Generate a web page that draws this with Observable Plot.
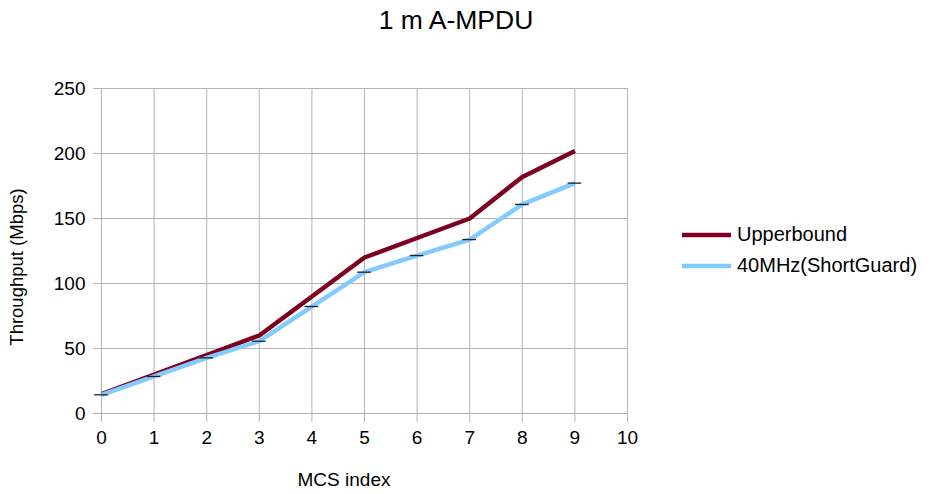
<!DOCTYPE html>
<html>
<head>
<meta charset="utf-8">
<script src="https://cdn.jsdelivr.net/npm/d3@7"></script>
<script src="https://cdn.jsdelivr.net/npm/@observablehq/plot@0.6"></script>
<style>
  html, body { margin: 0; padding: 0; background: #fff; }
  #wrap { position: relative; width: 931px; height: 494px; font-family: "Liberation Sans", Arial, sans-serif; color: #000; }
  #title { position: absolute; left: 256px; width: 400px; top: 4px; text-align: center; font-size: 26.5px; line-height: 32px; }
  #legend { position: absolute; left: 682px; top: 219px; font-size: 20px; }
  .item { display: flex; align-items: center; height: 31px; }
  .item svg { margin-right: 6px; }
  #chart { position: absolute; left: 0; top: 0; }
  #xlabel { position: absolute; left: 144px; width: 400px; top: 468px; text-align: center; font-size: 19px; line-height: 24px; }
  #ylabel { position: absolute; left: 17px; top: 267px; font-size: 18.5px; line-height: 22px; white-space: nowrap; transform: translate(-50%, -50%) rotate(-90deg); }
  #chart svg text { fill: #000; font-size: 19px; }
</style>
</head>
<body>
<div id="wrap">
  <div id="chart"></div>
  <div id="title">1 m A-MPDU</div>
  <div id="ylabel"></div>
  <div id="xlabel"></div>
  <div id="legend"></div>
</div>
<script>
const mcs = [0, 1, 2, 3, 4, 5, 6, 7, 8, 9];
const upperbound = [15, 30, 45, 60, 90, 120, 135, 150, 182, 202];
const shortGuard = [14.4, 28.5, 42.8, 55.6, 82.3, 108.7, 121.5, 133.8, 160.8, 177.2];
const seriesNames = ["Upperbound", "40MHz(ShortGuard)"];
const seriesColors = ["#7e0021", "#83caff"];
const xTicks = [0, 1, 2, 3, 4, 5, 6, 7, 8, 9, 10];
const yTicks = [0, 50, 100, 150, 200, 250];
const xLabel = "MCS index";
const yLabel = "Throughput (Mbps)";

const rows = [];
mcs.forEach((m, i) => {
  rows.push({x: m, y: upperbound[i], s: seriesNames[0]});
  rows.push({x: m, y: shortGuard[i], s: seriesNames[1]});
});
const sg = mcs.map((m, i) => ({x: m, y: shortGuard[i]}));

const chart = Plot.plot({
  width: 931,
  height: 494,
  marginLeft: 101,
  marginRight: 304,
  marginTop: 88,
  marginBottom: 81,
  style: {fontFamily: "Liberation Sans, Arial, sans-serif", fontSize: "19px", color: "#000", background: "transparent"},
  x: {domain: [0, 10], ticks: xTicks, label: null},
  y: {domain: [0, 250], ticks: yTicks, label: null},
  color: {domain: seriesNames, range: seriesColors},
  marks: [
    Plot.gridX(xTicks, {stroke: "#b3b3b3", strokeOpacity: 1, strokeWidth: 1}),
    Plot.gridY(yTicks, {stroke: "#b3b3b3", strokeOpacity: 1, strokeWidth: 1}),
    Plot.axisX({ticks: xTicks, tickSize: 9, stroke: "#b3b3b3", tickPadding: 8, fontSize: 19, label: null}),
    Plot.axisY({ticks: yTicks, tickSize: 8, stroke: "#b3b3b3", tickPadding: 8, fontSize: 19, label: null}),
    Plot.frame({stroke: "#b3b3b3"}),
    Plot.line(rows, {x: "x", y: "y", z: "s", stroke: "s", strokeWidth: 4.5, strokeLinejoin: "round", strokeLinecap: "butt"}),
    Plot.ruleY(sg, {y: "y", x1: d => d.x - 0.13, x2: d => d.x + 0.13, stroke: "#222", strokeWidth: 1.3})
  ]
});
document.getElementById("chart").appendChild(chart);
document.getElementById("xlabel").textContent = xLabel;
document.getElementById("ylabel").textContent = yLabel;

const legend = document.getElementById("legend");
seriesNames.forEach((n, i) => {
  const div = document.createElement("div");
  div.className = "item";
  div.innerHTML = `<svg width="49" height="10"><line x1="0" y1="5" x2="49" y2="5" stroke="${seriesColors[i]}" stroke-width="4.5"/></svg><span>${n}</span>`;
  legend.appendChild(div);
});
</script>
</body>
</html>
